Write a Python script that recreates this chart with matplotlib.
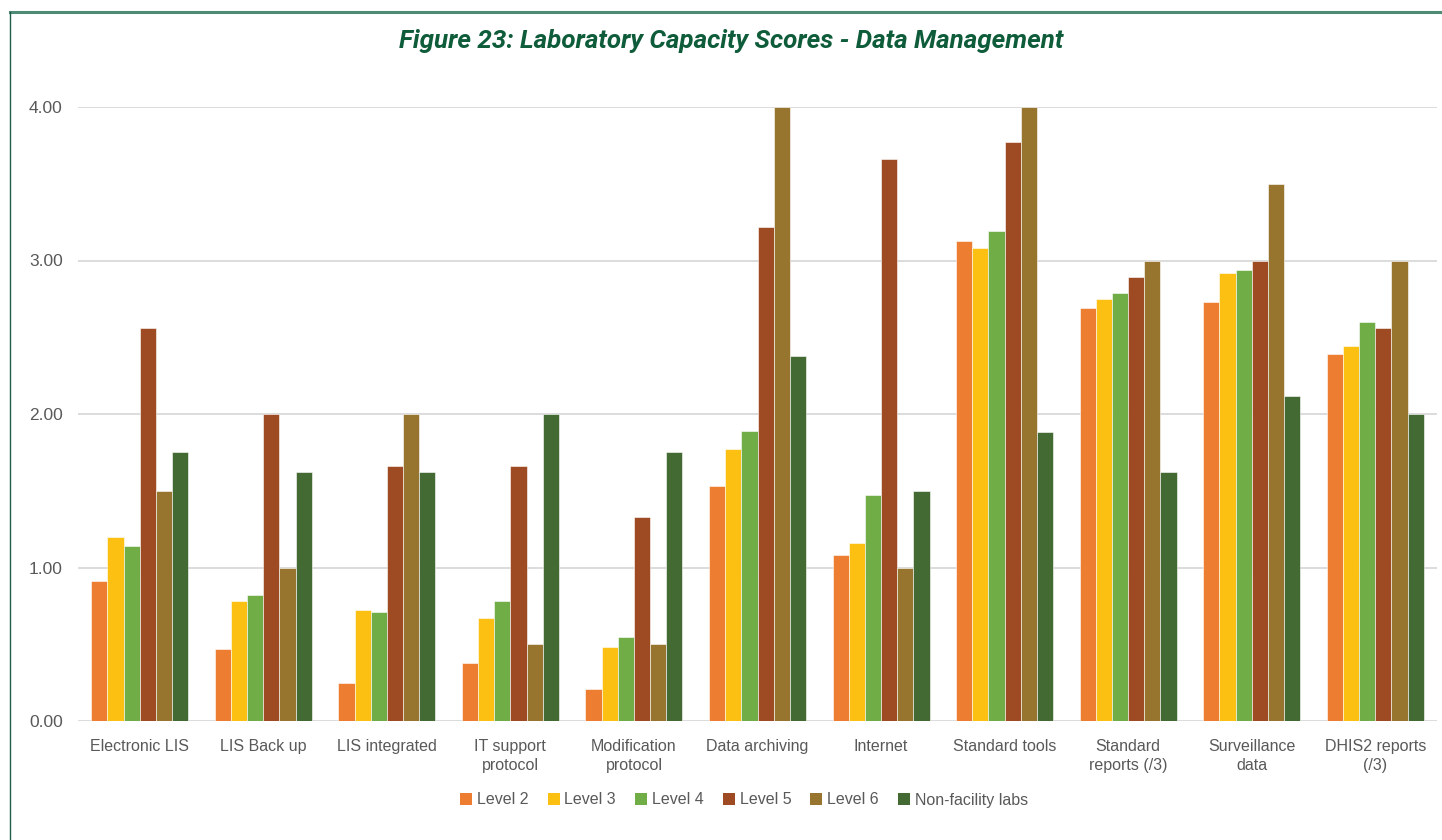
import matplotlib
matplotlib.use("Agg")
import matplotlib.pyplot as plt
import numpy as np
from matplotlib.lines import Line2D
from matplotlib.patches import Patch
from matplotlib import font_manager

categories = ["Electronic LIS", "LIS Back up", "LIS integrated", "IT support\nprotocol",
              "Modification\nprotocol", "Data archiving", "Internet", "Standard tools",
              "Standard\nreports (/3)", "Surveillance\ndata", "DHIS2 reports\n(/3)"]
series_names = ["Level 2", "Level 3", "Level 4", "Level 5", "Level 6", "Non-facility labs"]
level2 = [0.91, 0.47, 0.25, 0.38, 0.21, 1.53, 1.08, 3.13, 2.69, 2.73, 2.39]
level3 = [1.20, 0.78, 0.72, 0.67, 0.48, 1.77, 1.16, 3.08, 2.75, 2.92, 2.44]
level4 = [1.14, 0.82, 0.71, 0.78, 0.55, 1.89, 1.47, 3.19, 2.79, 2.94, 2.60]
level5 = [2.56, 2.00, 1.66, 1.66, 1.33, 3.22, 3.66, 3.77, 2.89, 3.00, 2.56]
level6 = [1.50, 1.00, 2.00, 0.50, 0.50, 4.00, 1.00, 4.00, 3.00, 3.50, 3.00]
nonfac = [1.75, 1.62, 1.62, 2.00, 1.75, 2.38, 1.50, 1.88, 1.62, 2.12, 2.00]
yticks = [0.0, 1.0, 2.0, 3.0, 4.0]
title = "Figure 23: Laboratory Capacity Scores - Data Management"

colors = ["#ED7D31", "#FBC012", "#70AD47", "#9E4A22", "#97752E", "#446A33"]
series = [level2, level3, level4, level5, level6, nonfac]

W, H = 1442, 840
fig = plt.figure(figsize=(W / 100, H / 100), dpi=100)
fig.patch.set_facecolor("white")

ax = fig.add_axes([78 / W, 1 - 721 / H, (1437 - 78) / W, (721 - 107) / H])
x = np.arange(len(categories))
bw = 0.785 / 6
for i, (vals, c) in enumerate(zip(series, colors)):
    ax.bar(x + (i - 2.5) * bw, vals, width=bw, color=c, edgecolor="white",
           linewidth=0.4, zorder=3, label=series_names[i])

lab_font = ["Liberation Sans", "DejaVu Sans"]
ax.set_xlim(-0.5, len(categories) - 0.5)
ax.set_ylim(0, 4)
ax.set_yticks(yticks)
ax.set_yticklabels([f"{v:.2f}" for v in yticks])
ax.yaxis.grid(True, color="#D9D9D9", linewidth=1.3, zorder=0)
ax.set_axisbelow(True)
for s in ax.spines.values():
    s.set_visible(False)
ax.tick_params(axis="both", length=0, labelcolor="#595959")
ax.tick_params(axis="x", labelsize=11.5, pad=13)
ax.tick_params(axis="y", labelsize=12.5, pad=11)
ax.set_xticks(x)
ax.set_xticklabels(categories, linespacing=1.3)
for lab in ax.get_xticklabels() + ax.get_yticklabels():
    lab.set_family(lab_font)

# choose a narrow italic family for the title if available
title_family = "Liberation Sans"
for cand in ["Liberation Sans Narrow", "DejaVu Sans Condensed", "Roboto", "Liberation Sans"]:
    try:
        font_manager.findfont(font_manager.FontProperties(family=cand), fallback_to_default=False)
        title_family = cand
        break
    except Exception:
        continue

t = fig.text(731 / W, 1 - 41 / H, title, ha="center", va="center", fontsize=22,
             style="italic", weight="bold", color="#0E5C3A",
             family=[title_family, "DejaVu Sans"])
fig.canvas.draw()
wpx = t.get_window_extent().width
target = 663.0
t.set_fontsize(22 * target / wpx)

handles = [Patch(facecolor=c, edgecolor="none") for c in colors]
leg = fig.legend(handles, series_names, loc="center", bbox_to_anchor=(744 / W, 1 - 800 / H),
                 ncol=6, frameon=False, handlelength=0.75, handleheight=0.75,
                 handletextpad=0.3, columnspacing=1.2,
                 prop={"family": lab_font, "size": 11.5})
for tt in leg.get_texts():
    tt.set_color("#595959")

# outer frame (top and left lines)
fig.add_artist(Line2D([10 / W, 1], [1 - 12 / H, 1 - 12 / H], color="#4F8A74", linewidth=2.2,
                      transform=fig.transFigure))
fig.add_artist(Line2D([10 / W, 10 / W], [0, 1 - 12 / H], color="#1E5E45", linewidth=1.0,
                      transform=fig.transFigure))

fig.savefig("out.png", dpi=100)
